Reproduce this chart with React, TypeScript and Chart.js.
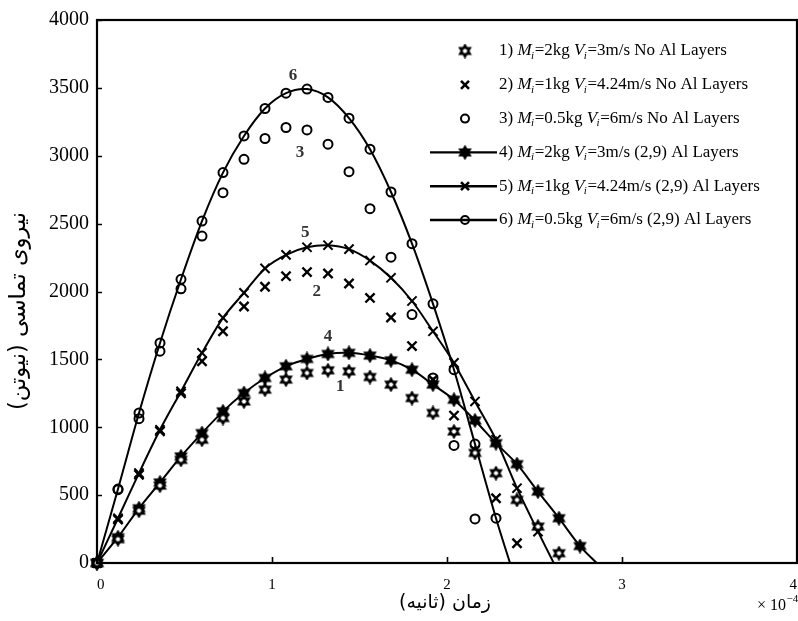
import React, { useEffect, useRef } from "react";
import { Chart, registerables } from "chart.js";

Chart.register(...registerables);

// ---- data (time in units of 1e-4 s, force in N) ----
const TIME = [0, 0.12, 0.24, 0.36, 0.48, 0.6, 0.72, 0.84, 0.96, 1.08, 1.2, 1.32, 1.44, 1.56, 1.68, 1.8, 1.92, 2.04, 2.16, 2.28, 2.4, 2.52, 2.64, 2.76];

const FORCE_1 = [0, 175, 385, 570, 760, 908, 1068, 1190, 1277, 1351, 1400, 1419, 1412, 1370, 1314, 1215, 1105, 969, 811, 662, 465, 268, 72];
const FORCE_2 = [0, 320, 650, 970, 1250, 1486, 1707, 1890, 2035, 2113, 2143, 2133, 2059, 1953, 1808, 1598, 1350, 1086, 830, 477, 145];
const FORCE_3 = [0, 540, 1063, 1560, 2020, 2408, 2728, 2974, 3127, 3208, 3190, 3085, 2883, 2610, 2253, 1830, 1363, 866, 325];
const FORCE_4 = [0, 190, 403, 593, 785, 957, 1117, 1252, 1363, 1449, 1503, 1540, 1548, 1528, 1493, 1424, 1314, 1203, 1050, 883, 728, 526, 330, 125];
const FORCE_5 = [0, 330, 662, 981, 1264, 1548, 1806, 1990, 2170, 2270, 2326, 2341, 2312, 2228, 2101, 1930, 1707, 1474, 1190, 908, 551, 231];
const FORCE_6 = [0, 545, 1105, 1621, 2090, 2519, 2876, 3146, 3348, 3461, 3491, 3430, 3277, 3048, 2733, 2352, 1909, 1424, 876, 330];

// where the fitted curves 4, 5, 6 reach zero force
const END_TIME_4 = 2.855;
const END_TIME_5 = 2.61;
const END_TIME_6 = 2.36;

const LEGEND_LABELS = [
  "1) {M}=2kg {V}=3m/s No Al Layers",
  "2) {M}=1kg {V}=4.24m/s No Al Layers",
  "3) {M}=0.5kg {V}=6m/s No Al Layers",
  "4) {M}=2kg {V}=3m/s (2,9) Al Layers",
  "5) {M}=1kg {V}=4.24m/s (2,9) Al Layers",
  "6) {M}=0.5kg {V}=6m/s (2,9) Al Layers",
];

const CURVE_TAGS = ["6", "3", "5", "2", "4", "1"];
const CURVE_TAG_X = [1.12, 1.16, 1.19, 1.255, 1.32, 1.39];
const CURVE_TAG_Y = [3590, 3020, 2435, 2000, 1665, 1300];

const X_TITLE = "زمان (ثانیه)";
const Y_TITLE = "نیروی تماسی (نیوتن)";

const SERIF = "'Liberation Serif', 'Times New Roman', serif";
const ARABIC = "'DejaVu Sans', sans-serif";

function pts(xs: number[], ys: number[], endX?: number) {
  const out = ys.map((y, i) => ({ x: xs[i], y }));
  if (endX !== undefined) out.push({ x: endX, y: 0 });
  return out;
}

function hexagram(filled: boolean): HTMLCanvasElement {
  const s = 15;
  const c = document.createElement("canvas");
  c.width = s;
  c.height = s;
  const g = c.getContext("2d")!;
  const cx = s / 2;
  const cy = s / 2;
  const R = 6;
  g.beginPath();
  for (const off of [-90, 90]) {
    for (let k = 0; k < 3; k++) {
      const a = ((off + k * 120) * Math.PI) / 180;
      const px = cx + R * Math.cos(a);
      const py = cy + R * Math.sin(a);
      if (k === 0) g.moveTo(px, py);
      else g.lineTo(px, py);
    }
    g.closePath();
  }
  g.strokeStyle = "#000";
  if (filled) {
    g.fillStyle = "#000";
    g.fill();
    g.lineWidth = 1.8;
    g.stroke();
  } else {
    g.fillStyle = "#fff";
    g.fill();
    g.lineWidth = 1.9;
    g.stroke();
  }
  return c;
}

function fitFont(ctx: CanvasRenderingContext2D, text: string, family: string, targetWidth: number) {
  ctx.font = `20px ${family}`;
  const w = ctx.measureText(text).width || 1;
  const size = (20 * targetWidth) / w;
  ctx.font = `${size.toFixed(2)}px ${family}`;
}

export default function App() {
  const ref = useRef<HTMLCanvasElement | null>(null);

  useEffect(() => {
    if (!ref.current) return;
    const starOpen = hexagram(false);
    const starFilled = hexagram(true);

    const lastHidden = (len: number, r: number) => (c: any) => (c.dataIndex === len - 1 ? 0 : r);

    const d4 = pts(TIME, FORCE_4, END_TIME_4);
    const d5 = pts(TIME, FORCE_5, END_TIME_5);
    const d6 = pts(TIME, FORCE_6, END_TIME_6);

    const decor = {
      id: "decor",
      afterDatasetsDraw(chart: any) {
        const { ctx, chartArea: a, scales } = chart;
        const xs = scales.x;
        const ys = scales.y;
        ctx.save();
        // frame
        ctx.strokeStyle = "#000";
        ctx.lineWidth = 2.2;
        ctx.strokeRect(a.left, a.top, a.right - a.left, a.bottom - a.top);
        // inward ticks
        ctx.lineWidth = 1.6;
        ctx.beginPath();
        for (const t of ys.ticks) {
          const py = Math.round(ys.getPixelForValue(t.value)) + 0.5;
          ctx.moveTo(a.left, py);
          ctx.lineTo(a.left + 5, py);
        }
        for (const t of xs.ticks) {
          const px = Math.round(xs.getPixelForValue(t.value)) + 0.5;
          ctx.moveTo(px, a.bottom);
          ctx.lineTo(px, a.bottom - 6);
        }
        ctx.stroke();

        // curve tags
        ctx.fillStyle = "#333";
        ctx.font = `bold 17px ${SERIF}`;
        ctx.textAlign = "center";
        ctx.textBaseline = "middle";
        CURVE_TAGS.forEach((t, i) => {
          ctx.fillText(t, xs.getPixelForValue(CURVE_TAG_X[i]), ys.getPixelForValue(CURVE_TAG_Y[i]));
        });

        // legend
        const fs = 17;
        const rowY0 = 51;
        const rowStep = 33.8;
        const mx = 465;
        const tx = 499;
        LEGEND_LABELS.forEach((label, i) => {
          const y = rowY0 + i * rowStep;
          ctx.strokeStyle = "#000";
          ctx.fillStyle = "#000";
          if (i >= 3) {
            ctx.lineWidth = 2.4;
            ctx.beginPath();
            ctx.moveTo(430, y);
            ctx.lineTo(497, y);
            ctx.stroke();
          }
          const kind = i % 3;
          if (kind === 0) {
            const img = i === 0 ? starOpen : starFilled;
            ctx.drawImage(img, mx - img.width / 2, y - img.height / 2);
          } else if (kind === 1) {
            ctx.lineWidth = 2.6;
            ctx.beginPath();
            ctx.moveTo(mx - 4, y - 4);
            ctx.lineTo(mx + 4, y + 4);
            ctx.moveTo(mx + 4, y - 4);
            ctx.lineTo(mx - 4, y + 4);
            ctx.stroke();
          } else {
            ctx.lineWidth = 2;
            ctx.beginPath();
            ctx.arc(mx, y, 4, 0, Math.PI * 2);
            ctx.stroke();
          }
          // text with italic variables
          ctx.textAlign = "left";
          ctx.textBaseline = "middle";
          let x = tx;
          const parts = label.split(/(\{[A-Z]\})/);
          for (const p of parts) {
            if (!p) continue;
            const m = p.match(/^\{([A-Z])\}$/);
            if (m) {
              ctx.font = `italic ${fs}px ${SERIF}`;
              ctx.fillText(m[1], x, y);
              x += ctx.measureText(m[1]).width;
              ctx.font = `italic 11px ${SERIF}`;
              ctx.fillText("i", x - 0.5, y + 5);
              x += ctx.measureText("i").width;
            } else {
              ctx.font = `${fs}px ${SERIF}`;
              ctx.fillText(p, x, y);
              x += ctx.measureText(p).width;
            }
          }
        });

        // axis titles
        ctx.fillStyle = "#000";
        ctx.direction = "rtl";
        ctx.textAlign = "center";
        ctx.textBaseline = "middle";
        fitFont(ctx, X_TITLE, ARABIC, 92);
        ctx.fillText(X_TITLE, 445, 603);
        ctx.save();
        ctx.translate(19, 311);
        ctx.rotate(-Math.PI / 2);
        fitFont(ctx, Y_TITLE, ARABIC, 198);
        ctx.fillText(Y_TITLE, 0, 0);
        ctx.restore();
        ctx.direction = "ltr";

        // exponent
        ctx.textAlign = "left";
        ctx.textBaseline = "alphabetic";
        ctx.font = `16px ${SERIF}`;
        ctx.fillText("× 10", 757, 610);
        const w = ctx.measureText("× 10").width;
        ctx.font = `11px ${SERIF}`;
        ctx.fillText("−4", 757 + w + 0.5, 602);
        ctx.restore();
      },
    };

    const chart = new Chart(ref.current, {
      type: "scatter",
      data: {
        datasets: [
          {
            data: pts(TIME, FORCE_1),
            showLine: false,
            pointStyle: starOpen as any,
            pointRadius: 6,
            borderColor: "#000",
          },
          {
            data: pts(TIME, FORCE_2),
            showLine: false,
            pointStyle: "crossRot",
            pointRadius: 6.5,
            pointBorderWidth: 2.4,
            borderColor: "#000",
          },
          {
            data: pts(TIME, FORCE_3),
            showLine: false,
            pointStyle: "circle",
            pointRadius: 4.5,
            pointBorderWidth: 2,
            borderColor: "#000",
            backgroundColor: "rgba(0,0,0,0)",
          },
          {
            data: d4,
            showLine: true,
            borderWidth: 2,
            tension: 0.3,
            borderColor: "#000",
            pointStyle: starFilled as any,
            pointRadius: lastHidden(d4.length, 6),
          },
          {
            data: d5,
            showLine: true,
            borderWidth: 2,
            tension: 0.3,
            borderColor: "#000",
            pointStyle: "crossRot",
            pointRadius: lastHidden(d5.length, 6.5),
            pointBorderWidth: 2,
          },
          {
            data: d6,
            showLine: true,
            borderWidth: 2,
            tension: 0.3,
            borderColor: "#000",
            backgroundColor: "rgba(0,0,0,0)",
            pointStyle: "circle",
            pointRadius: lastHidden(d6.length, 4.5),
            pointBorderWidth: 2,
          },
        ] as any,
      },
      options: {
        animation: false,
        responsive: false,
        events: [],
        clip: false as any,
        layout: { autoPadding: false, padding: { top: 20, right: 1, left: 0, bottom: 0 } },
        plugins: { legend: { display: false }, tooltip: { enabled: false } },
        scales: {
          x: {
            type: "linear",
            min: 0,
            max: 4,
            ticks: {
              stepSize: 1,
              color: "#000",
              padding: 0,
              align: "inner",
              font: { family: SERIF, size: 15 },
            },
            grid: { display: false, drawTicks: true, tickLength: 13 },
            border: { display: false },
            afterFit(scale: any) {
              scale.height = 58;
              scale.paddingLeft = 0;
              scale.paddingRight = 0;
            },
          },
          y: {
            type: "linear",
            min: 0,
            max: 4000,
            ticks: {
              stepSize: 500,
              color: "#000",
              padding: 8,
              font: { family: SERIF, size: 20 },
              callback: (v: any) => String(v),
            },
            grid: { display: false, drawTicks: false },
            border: { display: false },
            afterFit(scale: any) {
              scale.width = 97;
              scale.paddingTop = 0;
              scale.paddingBottom = 0;
            },
          },
        },
      },
      plugins: [decor],
    });

    return () => chart.destroy();
  }, []);

  return (
    <div style={{ position: "fixed", left: 0, top: 0, width: 798, height: 621, background: "#fff" }}>
      <canvas ref={ref} width={798} height={621} style={{ display: "block" }} />
    </div>
  );
}
